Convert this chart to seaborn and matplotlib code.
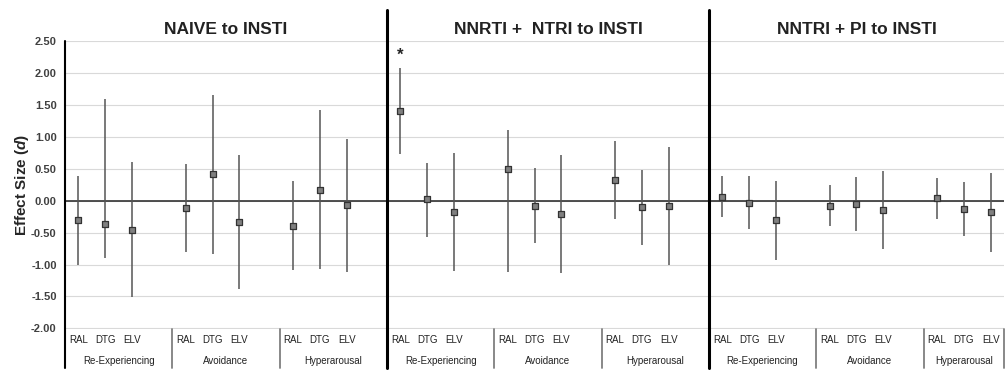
import numpy as np
import pandas as pd
import seaborn as sns
import matplotlib.pyplot as plt

panels = ['NAIVE to INSTI', 'NNRTI +  NTRI to INSTI', 'NNTRI + PI to INSTI']
groups = ['Re-Experiencing', 'Avoidance', 'Hyperarousal']
drugs = ['RAL', 'DTG', 'ELV']

# effect size d and CI bounds, order: group x drug (Re-Exp RAL..ELV, Avoid.., Hyper..)
naive_d = [-0.31, -0.36, -0.46, -0.12, 0.41, -0.34, -0.40, 0.17, -0.07]
naive_lo = [-1.00, -0.90, -1.51, -0.80, -0.84, -1.39, -1.09, -1.07, -1.11]
naive_hi = [0.39, 1.59, 0.60, 0.58, 1.66, 0.72, 0.31, 1.42, 0.97]

nnrti_d = [1.40, 0.02, -0.18, 0.49, -0.08, -0.21, 0.33, -0.10, -0.09]
nnrti_lo = [0.73, -0.57, -1.10, -1.12, -0.67, -1.13, -0.28, -0.69, -1.00]
nnrti_hi = [2.07, 0.59, 0.74, 1.10, 0.51, 0.71, 0.93, 0.48, 0.84]

pi_d = [0.05, -0.03, -0.31, -0.09, -0.06, -0.15, 0.04, -0.13, -0.18]
pi_lo = [-0.25, -0.45, -0.93, -0.40, -0.47, -0.75, -0.28, -0.56, -0.80]
pi_hi = [0.38, 0.39, 0.31, 0.24, 0.37, 0.46, 0.36, 0.29, 0.44]

# significant marker (only NNRTI + NTRI, Re-Experiencing, RAL)
sig = [False] * 9 + [True] + [False] * 8 + [False] * 9

rows = []
for p, (dd, lo, hi) in enumerate([(naive_d, naive_lo, naive_hi),
                                  (nnrti_d, nnrti_lo, nnrti_hi),
                                  (pi_d, pi_lo, pi_hi)]):
    for k in range(9):
        g, dr = divmod(k, 3)
        rows.append({'panel': panels[p], 'group': groups[g], 'drug': drugs[dr],
                     'x': p * 12 + g * 4 + dr + 0.5,
                     'd': dd[k], 'lo': lo[k], 'hi': hi[k]})
df = pd.DataFrame(rows)
df['sig'] = sig

sns.set_style('white')
plt.rcParams['font.family'] = ['Liberation Sans', 'DejaVu Sans']
plt.rcParams['mathtext.fontset'] = 'custom'
plt.rcParams['mathtext.it'] = 'Liberation Sans:italic:bold'
plt.rcParams['mathtext.rm'] = 'Liberation Sans:bold'

fig = plt.figure(figsize=(10.05, 3.76), dpi=100)
ax = fig.add_axes([65 / 1005, 47 / 376, 939 / 1005, 288 / 376])
xmax = 35

# grid
ax.set_ylim(-2.01, 2.5)
ax.set_xlim(0, xmax)
yt = np.arange(-2, 2.51, 0.5)
ax.set_yticks(yt)
ax.set_yticklabels([f'{v:.2f}' for v in yt], fontsize=8, fontweight='bold', color='#404040')
ax.yaxis.grid(True, color='#d9d9d9', lw=0.8)
ax.set_axisbelow(True)
ax.axhline(0, color='#333333', lw=1.2, zorder=1)

# CI lines + points
ax.vlines(df['x'], df['lo'], df['hi'], color='#555555', lw=1.1, zorder=2)
sns.scatterplot(data=df, x='x', y='d', marker='s', s=24, color='#808080',
                edgecolor='#333333', linewidth=0.9, zorder=3, ax=ax, legend=False)

for _, r in df[df['sig']].iterrows():
    ax.text(r['x'], r['hi'] + 0.2, '*', ha='center', va='center', fontsize=12, fontweight='bold')

for s in ['top', 'right', 'bottom', 'left']:
    ax.spines[s].set_visible(False)

# x labels
ax.set_xticks(df['x'])
ax.set_xticklabels(df['drug'], fontsize=7, color='#222222')
ax.tick_params(axis='x', length=0, pad=4)
ax.tick_params(axis='y', length=0, pad=6)
ax.set_xlabel('')
ax.set_ylabel(r'Effect Size ($\mathit{d}$)', fontsize=11, fontweight='bold', labelpad=0)

tr = ax.get_xaxis_transform()
for p in range(3):
    for g in range(3):
        x0 = p * 12 + g * 4
        x1 = min(x0 + 4, xmax)
        ax.text((x0 + x1) / 2, -0.112, groups[g], transform=tr, ha='center', va='center',
                fontsize=7, color='#222222')
        ax.plot([x1, x1], [0, -0.135], transform=tr, color='#7f7f7f', lw=1.3, clip_on=False)
    ax.text(p * 12 + min(12, xmax - p * 12) / 2, 1.04, panels[p], transform=tr,
            ha='center', va='center', fontsize=12.5, fontweight='bold', color='#222222')

# left axis line and panel dividers
ax.plot([0, 0], [1.0, -0.135], transform=tr, color='black', lw=1.5, clip_on=False)
for xd in [12, 24]:
    ax.plot([xd, xd], [1.108, -0.135], transform=tr, color='black', lw=2.2, clip_on=False)

fig.savefig('out.png', dpi=100)
